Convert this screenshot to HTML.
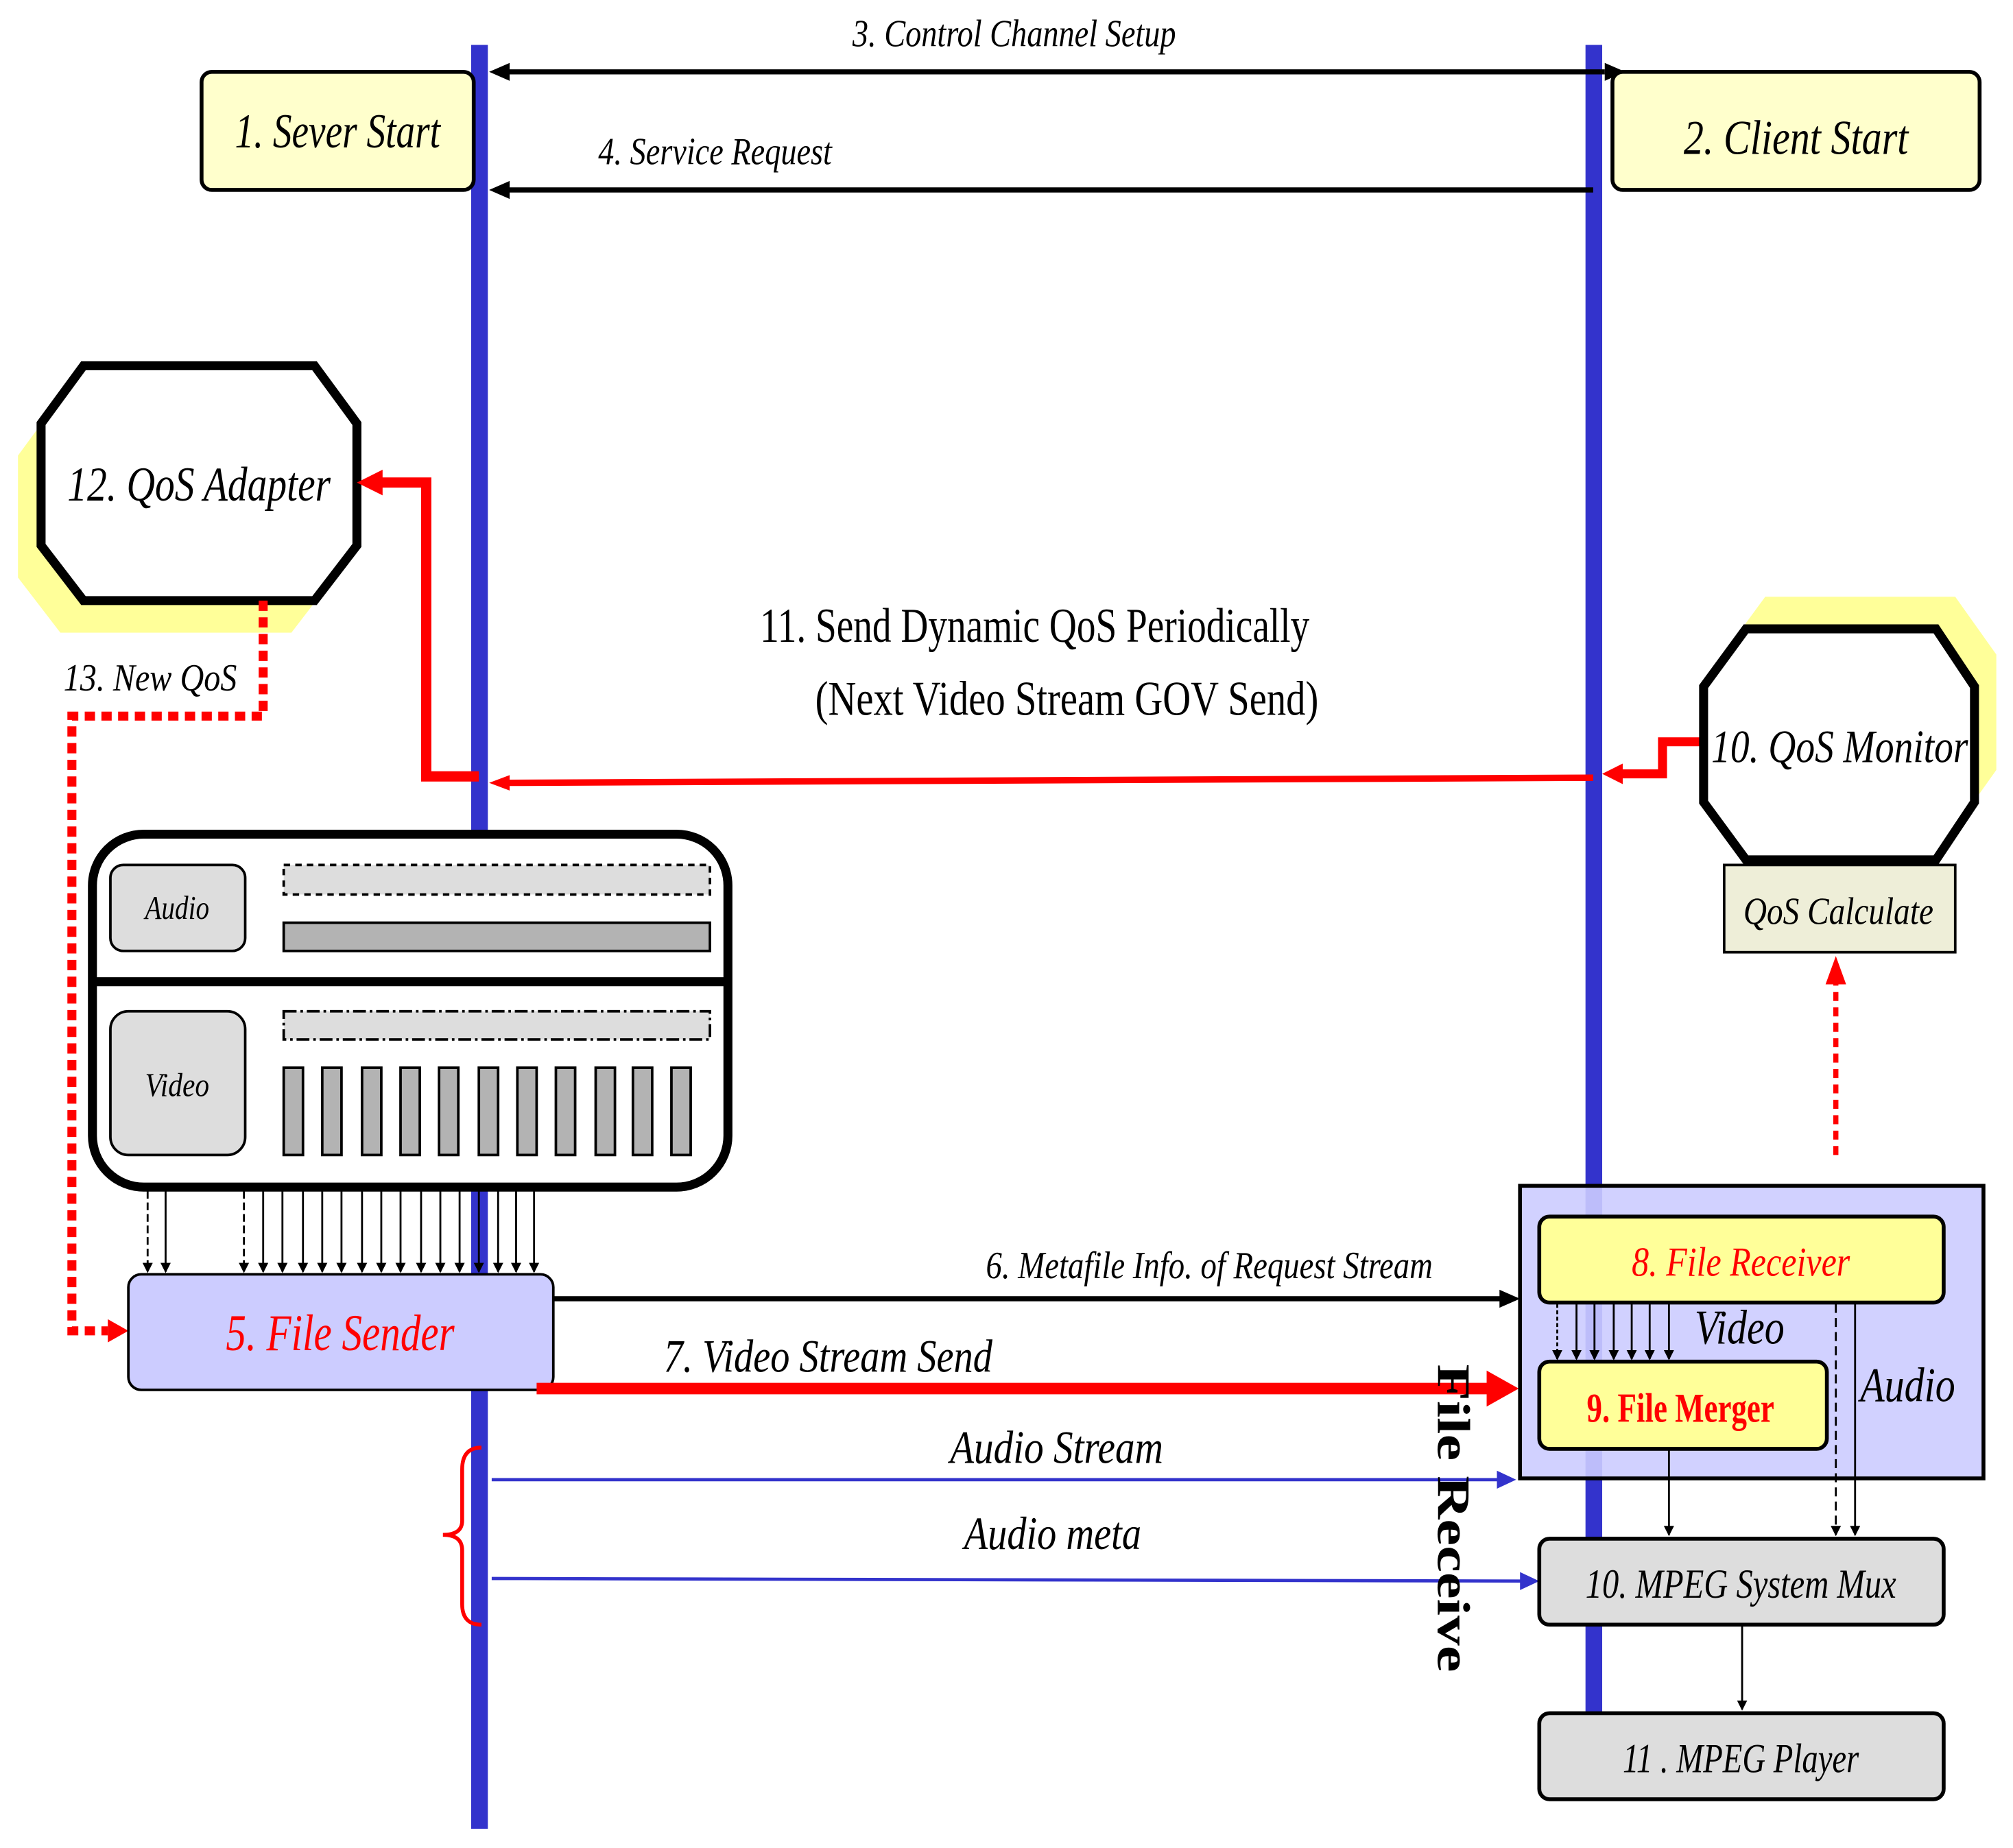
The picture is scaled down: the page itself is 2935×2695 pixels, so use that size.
<!DOCTYPE html>
<html><head><meta charset="utf-8"><style>html,body{margin:0;padding:0;background:#fff}svg{display:block}</style></head><body>
<svg xmlns="http://www.w3.org/2000/svg" width="2935" height="2695" viewBox="0 0 1568 1440" preserveAspectRatio="none" font-family="Liberation Serif, serif">
<defs>
<marker id="ab" markerWidth="8" markerHeight="8" refX="7" refY="4" orient="auto" markerUnits="userSpaceOnUse"><path d="M0,0L8,4L0,8z" fill="#000"/></marker>
</defs>
<rect x="367" y="35" width="13" height="1390" fill="#3333cc"/>
<rect x="1235" y="35" width="13" height="1300" fill="#3333cc"/>
<rect x="157" y="56" width="212" height="92" rx="8" fill="#ffffcc" stroke="#000" stroke-width="3"/>
<text x="263" y="115" font-size="38" font-style="italic" text-anchor="middle" textLength="160" lengthAdjust="spacingAndGlyphs">1. Sever Start</text>
<rect x="1256" y="56" width="286" height="92" rx="8" fill="#ffffcc" stroke="#000" stroke-width="3"/>
<text x="1399" y="120" font-size="38" font-style="italic" text-anchor="middle" textLength="175" lengthAdjust="spacingAndGlyphs">2. Client Start</text>
<line x1="395" y1="56" x2="1250" y2="56" stroke="#000" stroke-width="4"/>
<path d="M381,56L397,49L397,63z" fill="#000"/><path d="M1266,56L1250,49L1250,63z" fill="#000"/>
<text x="790" y="36" font-size="30" font-style="italic" text-anchor="middle" textLength="252" lengthAdjust="spacingAndGlyphs">3. Control Channel Setup</text>
<line x1="1241" y1="148" x2="395" y2="148" stroke="#000" stroke-width="4"/>
<path d="M381,148L397,141L397,155z" fill="#000"/>
<text x="557" y="128" font-size="30" font-style="italic" text-anchor="middle" textLength="182" lengthAdjust="spacingAndGlyphs">4. Service Request</text>
<polygon points="47,310 227,310 260,355 260,450 227,493 47,493 14,450 14,355" fill="#ffff99"/>
<polygon points="65,285 245,285 278,330 278,425 245,468 65,468 32,425 32,330" fill="#fff" stroke="#000" stroke-width="7"/>
<text x="155" y="390" font-size="38" font-style="italic" text-anchor="middle" textLength="205" lengthAdjust="spacingAndGlyphs">12.  QoS Adapter</text>
<polyline points="373,605 332,605 332,376 295,376" fill="none" stroke="red" stroke-width="8"/>
<path d="M278,376L298,366L298,386z" fill="red"/>
<line x1="1241" y1="606" x2="395" y2="610" stroke="red" stroke-width="5"/>
<path d="M381,610L397,604L397,616z" fill="red"/>
<polyline points="1327,578 1295,578 1295,603 1262,603" fill="none" stroke="red" stroke-width="7"/>
<path d="M1248,603L1264,595L1264,611z" fill="red"/>
<text x="806" y="500" font-size="38" text-anchor="middle" textLength="428" lengthAdjust="spacingAndGlyphs">11. Send Dynamic QoS Periodically</text>
<text x="831" y="557" font-size="38" text-anchor="middle" textLength="392" lengthAdjust="spacingAndGlyphs">(Next Video Stream GOV Send)</text>
<polygon points="1375,465 1523,465 1555,510 1555,600 1523,645 1375,645 1342,600 1342,510" fill="#ffff99"/>
<polygon points="1360,490 1508,490 1538,535 1538,625 1508,670 1360,670 1327,625 1327,535" fill="#fff" stroke="#000" stroke-width="7"/>
<text x="1433" y="594" font-size="36" font-style="italic" text-anchor="middle" textLength="200" lengthAdjust="spacingAndGlyphs">10. QoS Monitor</text>
<rect x="1343" y="674" width="180" height="68" fill="#eeeed8" stroke="#000" stroke-width="2"/>
<text x="1432" y="720" font-size="30" font-style="italic" text-anchor="middle" textLength="148" lengthAdjust="spacingAndGlyphs">QoS Calculate</text>
<line x1="1430" y1="900" x2="1430" y2="765" stroke="red" stroke-width="4" stroke-dasharray="7,5"/>
<path d="M1430,745L1422,767L1438,767z" fill="red"/>
<polyline points="205,468 205,558 56,558 56,1037 84,1037" fill="none" stroke="red" stroke-width="7" stroke-dasharray="8,5"/>
<path d="M100,1037L84,1028L84,1046z" fill="red"/>
<text x="117" y="538" font-size="30" font-style="italic" text-anchor="middle" textLength="135" lengthAdjust="spacingAndGlyphs">13. New QoS</text>
<rect x="72" y="650" width="495" height="275" rx="40" fill="#fff" stroke="#000" stroke-width="7"/>
<line x1="72" y1="765" x2="567" y2="765" stroke="#000" stroke-width="7"/>
<rect x="86" y="674" width="105" height="67" rx="10" fill="#ddd" stroke="#000" stroke-width="2"/>
<text x="138" y="716" font-size="26" font-style="italic" text-anchor="middle" textLength="50" lengthAdjust="spacingAndGlyphs">Audio</text>
<rect x="221" y="674" width="332" height="23" fill="#ddd" stroke="#000" stroke-width="2" stroke-dasharray="5,4"/>
<rect x="221" y="719" width="332" height="22" fill="#b3b3b3" stroke="#000" stroke-width="2"/>
<rect x="86" y="788" width="105" height="112" rx="14" fill="#ddd" stroke="#000" stroke-width="2"/>
<text x="138" y="854" font-size="26" font-style="italic" text-anchor="middle" textLength="50" lengthAdjust="spacingAndGlyphs">Video</text>
<rect x="221" y="788" width="332" height="22" fill="#ddd" stroke="#000" stroke-width="2" stroke-dasharray="10,3,2,3"/>
<g fill="#b3b3b3" stroke="#000" stroke-width="2">
<rect x="221" y="832" width="15" height="68"/><rect x="251" y="832" width="15" height="68"/><rect x="282" y="832" width="15" height="68"/><rect x="312" y="832" width="15" height="68"/><rect x="342" y="832" width="15" height="68"/><rect x="373" y="832" width="15" height="68"/><rect x="403" y="832" width="15" height="68"/><rect x="433" y="832" width="15" height="68"/><rect x="464" y="832" width="15" height="68"/><rect x="493" y="832" width="15" height="68"/><rect x="523" y="832" width="15" height="68"/>
</g>
<g stroke="#000" stroke-width="1.5">
<line x1="115" y1="928" x2="115" y2="991" stroke-dasharray="6,3" marker-end="url(#ab)"/>
<line x1="129" y1="928" x2="129" y2="991" marker-end="url(#ab)"/>
<line x1="190" y1="928" x2="190" y2="991" stroke-dasharray="6,3" marker-end="url(#ab)"/>
<line x1="205" y1="928" x2="205" y2="991" marker-end="url(#ab)"/><line x1="220" y1="928" x2="220" y2="991" marker-end="url(#ab)"/><line x1="236" y1="928" x2="236" y2="991" marker-end="url(#ab)"/><line x1="251" y1="928" x2="251" y2="991" marker-end="url(#ab)"/><line x1="266" y1="928" x2="266" y2="991" marker-end="url(#ab)"/><line x1="282" y1="928" x2="282" y2="991" marker-end="url(#ab)"/><line x1="297" y1="928" x2="297" y2="991" marker-end="url(#ab)"/><line x1="312" y1="928" x2="312" y2="991" marker-end="url(#ab)"/><line x1="328" y1="928" x2="328" y2="991" marker-end="url(#ab)"/><line x1="343" y1="928" x2="343" y2="991" marker-end="url(#ab)"/><line x1="358" y1="928" x2="358" y2="991" marker-end="url(#ab)"/><line x1="373" y1="928" x2="373" y2="991" marker-end="url(#ab)"/><line x1="388" y1="928" x2="388" y2="991" marker-end="url(#ab)"/><line x1="402" y1="928" x2="402" y2="991" marker-end="url(#ab)"/><line x1="416" y1="928" x2="416" y2="991" marker-end="url(#ab)"/>
</g>
<rect x="100" y="993" width="331" height="90" rx="10" fill="#ccccff" stroke="#000" stroke-width="2"/>
<text x="265" y="1052" font-size="40" font-style="italic" fill="red" text-anchor="middle" textLength="178" lengthAdjust="spacingAndGlyphs">5.  File Sender</text>
<line x1="431" y1="1012" x2="1170" y2="1012" stroke="#000" stroke-width="4"/>
<path d="M1184,1012L1168,1005L1168,1019z" fill="#000"/>
<text x="942" y="996" font-size="30" font-style="italic" text-anchor="middle" textLength="348" lengthAdjust="spacingAndGlyphs">6. Metafile Info. of Request Stream</text>
<line x1="418" y1="1082" x2="1160" y2="1082" stroke="red" stroke-width="9"/>
<path d="M1183,1082L1158,1068L1158,1096z" fill="red"/>
<text x="645" y="1069" font-size="36" font-style="italic" text-anchor="middle" textLength="256" lengthAdjust="spacingAndGlyphs">7. Video Stream Send</text>
<line x1="383" y1="1153" x2="1168" y2="1153" stroke="#3333cc" stroke-width="2.5"/>
<path d="M1181,1153L1166,1146L1166,1160z" fill="#3333cc"/>
<text x="823" y="1140" font-size="36" font-style="italic" text-anchor="middle" textLength="166" lengthAdjust="spacingAndGlyphs">Audio Stream</text>
<line x1="383" y1="1230" x2="1186" y2="1232" stroke="#3333cc" stroke-width="2.5"/>
<path d="M1199,1232L1184,1225L1184,1239z" fill="#3333cc"/>
<text x="820" y="1207" font-size="36" font-style="italic" text-anchor="middle" textLength="138" lengthAdjust="spacingAndGlyphs">Audio meta</text>
<path d="M375,1128 Q360,1128 360,1145 L360,1185 Q360,1196 345,1196 Q360,1196 360,1208 L360,1250 Q360,1266 375,1266" fill="none" stroke="red" stroke-width="3"/>
<rect x="1184" y="924" width="361" height="228" fill="#ccccff" fill-opacity="0.9" stroke="#000" stroke-width="3"/>
<text transform="translate(1120,1063) rotate(90)" font-size="36" font-weight="bold" textLength="240" lengthAdjust="spacingAndGlyphs">File Receive</text>
<rect x="1199" y="948" width="315" height="67" rx="8" fill="#ffff99" stroke="#000" stroke-width="3"/>
<text x="1356" y="994" font-size="32" font-style="italic" fill="red" text-anchor="middle" textLength="170" lengthAdjust="spacingAndGlyphs">8.   File Receiver</text>
<rect x="1199" y="1061" width="224" height="68" rx="8" fill="#ffff99" stroke="#000" stroke-width="3"/>
<text x="1309" y="1108" font-size="32" font-weight="bold" fill="red" text-anchor="middle" textLength="146" lengthAdjust="spacingAndGlyphs">9. File Merger</text>
<g stroke="#000" stroke-width="1.5">
<line x1="1213" y1="1016" x2="1213" y2="1059" stroke-dasharray="3,2" marker-end="url(#ab)"/>
<line x1="1228" y1="1016" x2="1228" y2="1059" marker-end="url(#ab)"/><line x1="1242" y1="1016" x2="1242" y2="1059" marker-end="url(#ab)"/><line x1="1257" y1="1016" x2="1257" y2="1059" marker-end="url(#ab)"/><line x1="1271" y1="1016" x2="1271" y2="1059" marker-end="url(#ab)"/><line x1="1285" y1="1016" x2="1285" y2="1059" marker-end="url(#ab)"/><line x1="1300" y1="1016" x2="1300" y2="1059" marker-end="url(#ab)"/>
<line x1="1430" y1="1016" x2="1430" y2="1196" stroke-dasharray="7,4" marker-end="url(#ab)"/>
<line x1="1445" y1="1016" x2="1445" y2="1196" marker-end="url(#ab)"/>
<line x1="1300" y1="1130" x2="1300" y2="1196" marker-end="url(#ab)"/>
<line x1="1357" y1="1266" x2="1357" y2="1332" marker-end="url(#ab)"/>
</g>
<text x="1355" y="1047" font-size="38" font-style="italic" text-anchor="middle" textLength="70" lengthAdjust="spacingAndGlyphs">Video</text>
<text x="1486" y="1092" font-size="38" font-style="italic" text-anchor="middle" textLength="74" lengthAdjust="spacingAndGlyphs">Audio</text>
<rect x="1199" y="1199" width="315" height="67" rx="8" fill="#ddd" stroke="#000" stroke-width="3"/>
<text x="1356" y="1245" font-size="32" font-style="italic" text-anchor="middle" textLength="242" lengthAdjust="spacingAndGlyphs">10.  MPEG System Mux</text>
<rect x="1199" y="1335" width="315" height="67" rx="8" fill="#ddd" stroke="#000" stroke-width="3"/>
<text x="1356" y="1381" font-size="32" font-style="italic" text-anchor="middle" textLength="184" lengthAdjust="spacingAndGlyphs">11 . MPEG Player</text>
</svg>
</body></html>
